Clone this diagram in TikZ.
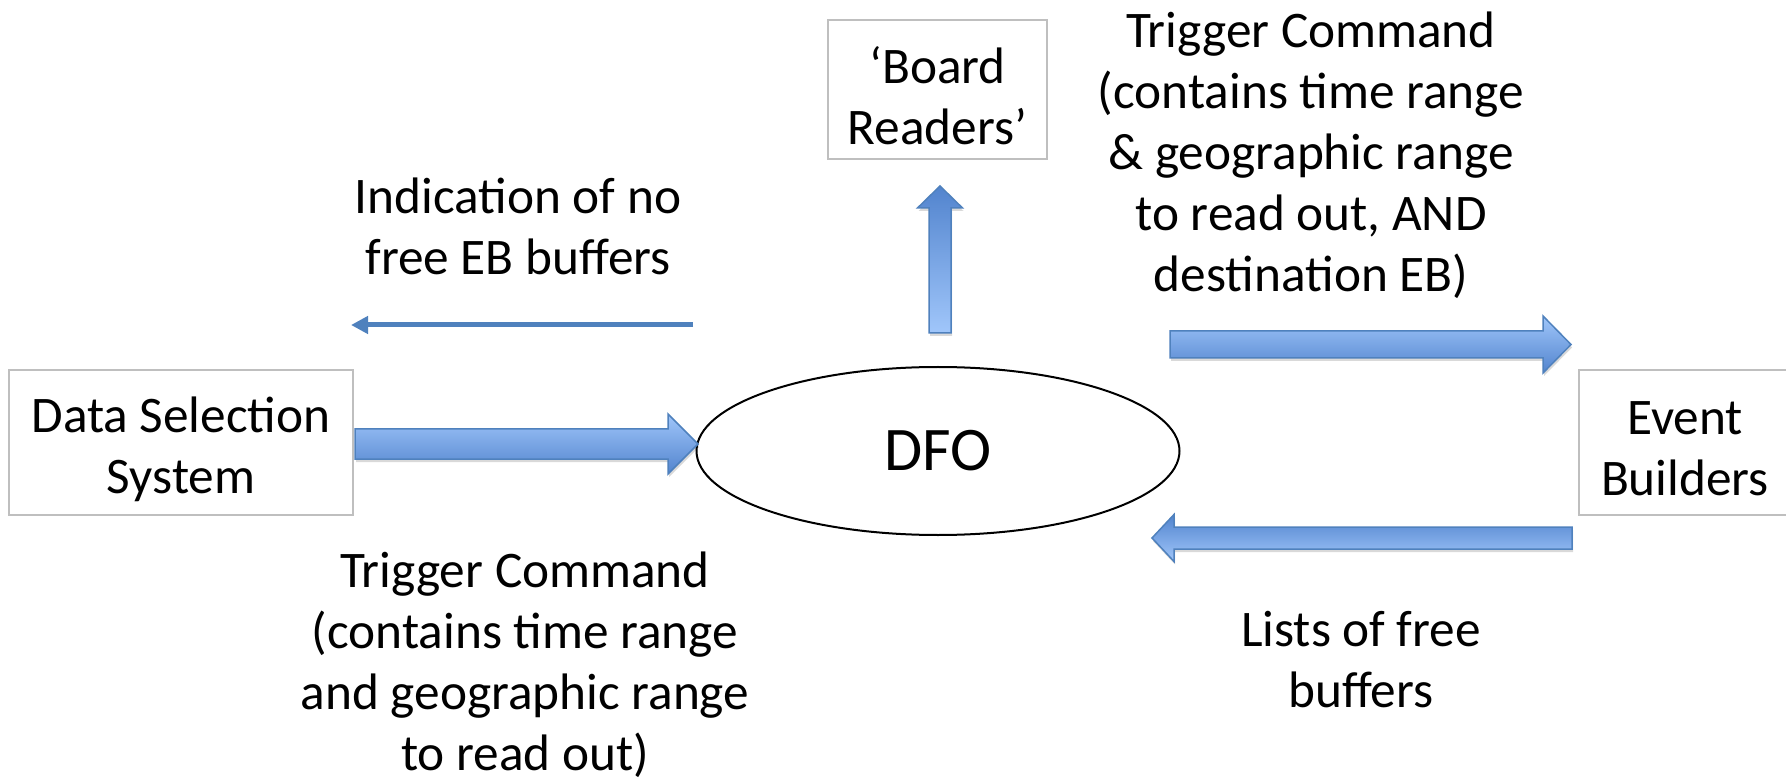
\documentclass[tikz,border=0pt]{standalone}
\usepackage{fontspec}
\setmainfont{Carlito}
\usetikzlibrary{shapes.geometric,calc,arrows.meta}
\definecolor{arrlight}{RGB}{160,198,250}
\definecolor{arrdark}{RGB}{82,132,206}
\definecolor{arredge}{RGB}{79,129,189}
\definecolor{boxedge}{RGB}{191,191,191}
\tikzset{
  blockarrow/.style={draw=arredge, line width=1.5pt, line join=miter,
    preaction={fill=black, opacity=0.15, transform canvas={xshift=1pt,yshift=-3pt}}},
  txt/.style={font=\fontsize{51.3}{61}\selectfont, align=center, inner sep=0pt},
  box/.style={draw=boxedge, line width=1.5pt, fill=white, inner sep=0pt},
  thinarrow/.style={draw=arredge, line width=5pt, -{Triangle[length=17pt,width=17pt]}}
}
\newcommand{\hblockarrow}[6]{%
  \shade[blockarrow,#6] let \p1=(#1), \p2=(#2), \n1={sign(\x2-\x1)} in
  (\x1,\y1+#3) -- (\x2-\n1*#5,\y1+#3) -- (\x2-\n1*#5,\y1+#4) -- (\x2,\y1)
  -- (\x2-\n1*#5,\y1-#4) -- (\x2-\n1*#5,\y1-#3) -- (\x1,\y1-#3) -- cycle;}
\newcommand{\vblockarrow}[6]{%
  \shade[blockarrow,#6] let \p1=(#1), \p2=(#2), \n1={sign(\y2-\y1)} in
  (\x1+#3,\y1) -- (\x1+#3,\y2-\n1*#5) -- (\x1+#4,\y2-\n1*#5) -- (\x1,\y2)
  -- (\x1-#4,\y2-\n1*#5) -- (\x1-#3,\y2-\n1*#5) -- (\x1-#3,\y1) -- cycle;}
\begin{document}
\begin{tikzpicture}[x=1pt,y=-1pt]
\useasboundingbox[fill=white] (0,0) rectangle (1786,783);
% nodes
\node[box, minimum width=344pt, minimum height=145pt,
      label={[txt, yshift=-7pt]center:{Data Selection\\System}}] (dss) at (181,442.5) {};
\node[draw, ellipse, line width=2pt, minimum width=483pt, minimum height=168pt, inner sep=0pt,
      font=\fontsize{62}{72}\selectfont] (dfo) at (938,451) {DFO};
\node[box, minimum width=219pt, minimum height=139pt,
      label={[txt, yshift=-6pt]center:{‘Board\\Readers’}}] (br) at (937.5,89.5) {};
\node[box, minimum width=212pt, minimum height=145pt,
      label={[txt, yshift=-6pt]center:{Event\\Builders}}] (eb) at (1685,442.5) {};
% labels
\node[txt] (lind) at (518,226) {Indication of no\\free EB buffers};
\node[txt] (ltrigA) at (525,665) {Trigger Command\\(contains time range\\and geographic range\\to read out)};
\node[txt] (ltrigB) at (1311,155) {Trigger Command\\(contains time range\\\& geographic range\\to read out, AND\\destination EB)};
\node[txt] (llist) at (1361,660) {Lists of free\\buffers};
% arrow end points
\coordinate (a1s) at (355,444);  \coordinate (a1e) at (698,444);
\coordinate (a2s) at (940,333);  \coordinate (a2e) at (940,186);
\coordinate (a3s) at (693,325);  \coordinate (a3e) at (351,325);
\coordinate (a4s) at (1170,344.5); \coordinate (a4e) at (1571,344.5);
\coordinate (a5s) at (1572,538); \coordinate (a5e) at (1152,538);
% arrows
\hblockarrow{a1s}{a1e}{15pt}{30pt}{30pt}{top color=arrlight,bottom color=arrdark}
\vblockarrow{a2s}{a2e}{11pt}{22.5pt}{22pt}{top color=arrdark,bottom color=arrlight}
\draw[thinarrow] (a3s) -- (a3e);
\hblockarrow{a4s}{a4e}{13.5pt}{28.5pt}{28pt}{top color=arrlight,bottom color=arrdark}
\hblockarrow{a5s}{a5e}{11pt}{23.5pt}{22pt}{top color=arrdark,bottom color=arrlight}
\end{tikzpicture}
\end{document}
